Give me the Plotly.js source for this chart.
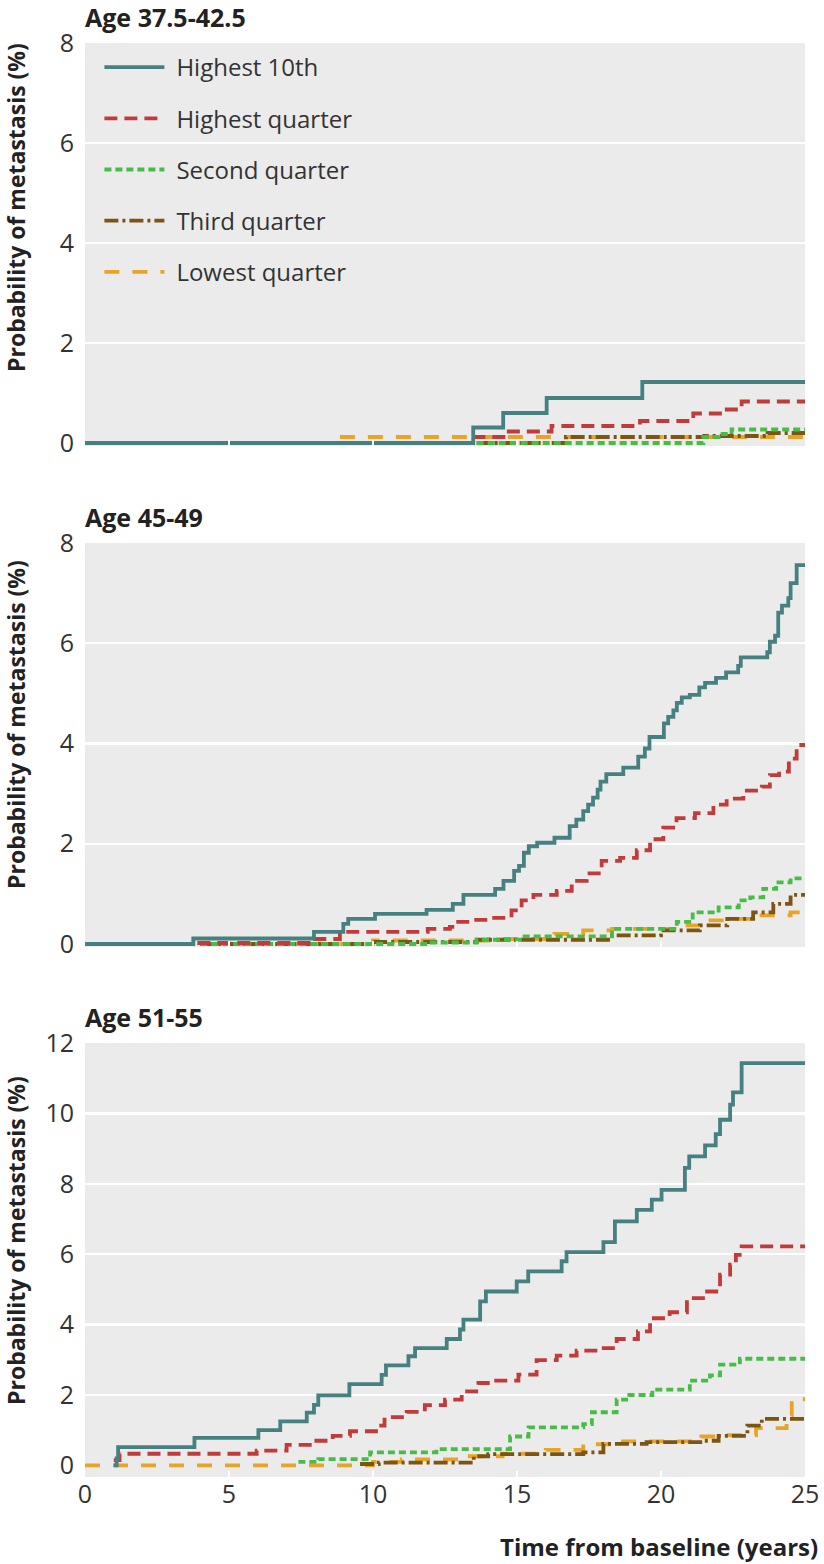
<!DOCTYPE html>
<html>
<head>
<meta charset="utf-8">
<script src="https://cdn.plot.ly/plotly-3.0.1.min.js"></script>
<style>
  html, body { margin: 0; padding: 0; background: #ffffff; }
  #chart { width: 824px; height: 1564px; }
</style>
</head>
<body>
<div id="chart"></div>
<script>
// ---------------- DATA ----------------
const seriesNames = ["Highest 10th", "Highest quarter", "Second quarter", "Third quarter", "Lowest quarter"];
const panelTitles = ["Age 37.5-42.5", "Age 45-49", "Age 51-55"];
const xTickVals = [0, 5, 10, 15, 20, 25];
const yTickVals12 = [0, 2, 4, 6, 8];
const yTickVals3 = [0, 2, 4, 6, 8, 10, 12];

// Panel 1: Age 37.5-42.5  (time in years, probability in %)
const p1_high10_t = [0, 13.48, 14.52, 16.03, 19.35, 25];
const p1_high10_p = [0, 0.31, 0.60, 0.90, 1.22, 1.22];
const p1_highQ_t = [13.45, 14.64, 16.2, 19.27, 21.12, 22.2, 22.8, 25];
const p1_highQ_p = [0.12, 0.23, 0.34, 0.44, 0.59, 0.67, 0.83, 0.83];
const p1_secondQ_t = [13.6, 21.47, 22.0, 22.45, 25];
const p1_secondQ_p = [0, 0.12, 0.18, 0.27, 0.27];
const p1_thirdQ_t = [13.6, 16.7, 21.5, 23.7, 25];
const p1_thirdQ_p = [0, 0.12, 0.14, 0.20, 0.20];
const p1_lowQ_t = [8.85, 25];
const p1_lowQ_p = [0.12, 0.12];

// Panel 2: Age 45-49
const p2_high10_t = [0, 3.76, 7.95, 8.97, 9.14, 10.07, 11.86, 12.77, 13.14, 14.24, 14.53, 14.9, 15.07, 15.24, 15.41, 15.7, 16.3, 16.83, 17.06, 17.3, 17.47, 17.64, 17.8, 17.9, 18.1, 18.69, 19.21, 19.44, 19.6, 20.1, 20.25, 20.43, 20.55, 20.72, 21.0, 21.33, 21.53, 21.91, 22.26, 22.68, 22.77, 23.69, 23.78, 23.96, 24.07, 24.2, 24.42, 24.5, 24.71, 25];
const p2_high10_p = [0, 0.11, 0.24, 0.40, 0.50, 0.60, 0.68, 0.80, 0.98, 1.10, 1.26, 1.46, 1.56, 1.82, 1.95, 2.02, 2.12, 2.35, 2.48, 2.65, 2.78, 2.92, 3.08, 3.24, 3.39, 3.52, 3.74, 3.90, 4.13, 4.40, 4.53, 4.66, 4.81, 4.92, 4.97, 5.12, 5.21, 5.31, 5.42, 5.55, 5.72, 5.82, 6.03, 6.15, 6.61, 6.75, 6.90, 7.20, 7.56, 7.56];
const p2_highQ_t = [3.9, 7.9, 8.85, 11.9, 12.67, 12.85, 13.5, 14.06, 14.81, 15.16, 15.57, 16.38, 16.9, 17.42, 17.94, 18.58, 19.16, 19.62, 20.08, 20.54, 21.18, 21.82, 22.28, 22.86, 23.5, 23.78, 24.1, 24.44, 24.71, 25];
const p2_highQ_p = [0.02, 0.10, 0.24, 0.30, 0.34, 0.44, 0.48, 0.52, 0.67, 0.87, 0.98, 1.06, 1.26, 1.41, 1.66, 1.72, 1.87, 2.09, 2.32, 2.51, 2.61, 2.78, 2.90, 3.06, 3.14, 3.37, 3.44, 3.70, 3.97, 3.97];
const p2_secondQ_t = [4.0, 11.9, 13.6, 15.1, 18.3, 20.55, 21.1, 22.0, 22.7, 23.1, 23.55, 24.0, 24.5, 25];
const p2_secondQ_p = [0, 0.03, 0.085, 0.15, 0.30, 0.44, 0.63, 0.73, 0.87, 0.93, 1.10, 1.23, 1.31, 1.31];
const p2_thirdQ_t = [4.0, 10.0, 13.6, 18.3, 20.0, 21.35, 22.3, 23.2, 23.9, 24.5, 25];
const p2_thirdQ_p = [0, 0.04, 0.085, 0.17, 0.27, 0.37, 0.50, 0.63, 0.80, 0.98, 0.98];
const p2_lowQ_t = [4.0, 10.0, 14.0, 16.3, 17.3, 18.3, 20.6, 21.5, 22.5, 23.4, 24.5, 25];
const p2_lowQ_p = [0, 0.07, 0.10, 0.20, 0.27, 0.30, 0.37, 0.47, 0.50, 0.57, 0.63, 0.63];

// Panel 3: Age 51-55
const p3_high10_t = [1.0, 1.1, 1.15, 3.8, 6.02, 6.78, 7.7, 7.95, 8.1, 9.18, 10.3, 10.45, 11.23, 11.46, 12.56, 13.02, 13.14, 13.72, 13.92, 14.99, 15.39, 16.55, 16.72, 18.0, 18.4, 19.16, 19.68, 20.02, 20.83, 20.98, 21.53, 21.9, 22.05, 22.4, 22.5, 22.8, 25];
const p3_high10_p = [0, 0.2, 0.52, 0.78, 1.0, 1.25, 1.5, 1.72, 1.99, 2.31, 2.57, 2.84, 3.10, 3.33, 3.59, 3.86, 4.14, 4.66, 4.94, 5.23, 5.51, 5.80, 6.06, 6.34, 6.93, 7.26, 7.55, 7.83, 8.45, 8.78, 9.09, 9.41, 9.82, 10.25, 10.6, 11.43, 11.43];
const p3_highQ_t = [1.0, 1.2, 5.96, 7.0, 7.93, 8.6, 9.2, 10.2, 10.4, 11.17, 11.8, 12.5, 13.08, 13.66, 14.2, 15.05, 15.68, 16.38, 17.07, 17.94, 18.46, 19.2, 19.62, 20.3, 20.9, 21.53, 22.05, 22.4, 22.6, 22.8, 25];
const p3_highQ_p = [0.15, 0.33, 0.42, 0.58, 0.70, 0.84, 0.97, 1.13, 1.37, 1.52, 1.71, 1.87, 2.10, 2.34, 2.41, 2.58, 2.99, 3.12, 3.26, 3.33, 3.59, 3.81, 4.18, 4.35, 4.75, 4.94, 5.42, 5.70, 5.98, 6.22, 6.22];
const p3_secondQ_t = [7.41, 8.1, 9.9, 12.2, 14.76, 15.4, 17.3, 17.6, 18.46, 18.9, 19.7, 21.0, 21.7, 22.05, 22.74, 25];
const p3_secondQ_p = [0.10, 0.18, 0.37, 0.46, 0.82, 1.08, 1.17, 1.51, 1.87, 2.00, 2.15, 2.41, 2.56, 2.86, 3.03, 3.03];
const p3_thirdQ_t = [9.55, 10.2, 13.5, 14.0, 17.3, 18.0, 19.5, 21.5, 22.0, 23.0, 23.5, 25];
const p3_thirdQ_p = [0.04, 0.08, 0.26, 0.32, 0.37, 0.61, 0.66, 0.70, 0.84, 1.13, 1.32, 1.32];
const p3_lowQ_t = [0, 10.0, 11.0, 13.25, 14.5, 16.0, 17.3, 18.2, 21.4, 22.0, 23.3, 24.36, 24.54, 25];
const p3_lowQ_p = [0, 0.10, 0.17, 0.26, 0.33, 0.44, 0.60, 0.68, 0.82, 0.86, 1.06, 1.41, 1.88, 1.88];

// ---------------- STYLE ----------------
const FONT = '"Open Sans", "Noto Sans", sans-serif';
const TEXT = '#333333';
const BG = '#ebebeb';
const LW = 3.8;
const styles = {
  "Highest 10th":    { color: '#468080', dash: 'solid',              rank: 1 },
  "Highest quarter": { color: '#c23b3b', dash: '13px,7px',           rank: 2 },
  "Second quarter":  { color: '#47bd47', dash: '7px,4px',            rank: 3 },
  "Third quarter":   { color: '#7b5511', dash: '14px,4px,3px,4px',   rank: 4 },
  "Lowest quarter":  { color: '#e9a326', dash: '15px,13px',          rank: 5 }
};

const panels = [
  { xa: 'x',  ya: 'y',  data: { "Highest 10th": [p1_high10_t, p1_high10_p], "Highest quarter": [p1_highQ_t, p1_highQ_p], "Second quarter": [p1_secondQ_t, p1_secondQ_p], "Third quarter": [p1_thirdQ_t, p1_thirdQ_p], "Lowest quarter": [p1_lowQ_t, p1_lowQ_p] } },
  { xa: 'x2', ya: 'y2', data: { "Highest 10th": [p2_high10_t, p2_high10_p], "Highest quarter": [p2_highQ_t, p2_highQ_p], "Second quarter": [p2_secondQ_t, p2_secondQ_p], "Third quarter": [p2_thirdQ_t, p2_thirdQ_p], "Lowest quarter": [p2_lowQ_t, p2_lowQ_p] } },
  { xa: 'x3', ya: 'y3', data: { "Highest 10th": [p3_high10_t, p3_high10_p], "Highest quarter": [p3_highQ_t, p3_highQ_p], "Second quarter": [p3_secondQ_t, p3_secondQ_p], "Third quarter": [p3_thirdQ_t, p3_thirdQ_p], "Lowest quarter": [p3_lowQ_t, p3_lowQ_p] } }
];

// draw order: lowest first so that Highest 10th is on top
const drawOrder = ["Lowest quarter", "Third quarter", "Second quarter", "Highest quarter", "Highest 10th"];
const traces = [];
panels.forEach((pn, i) => {
  drawOrder.forEach(name => {
    const st = styles[name];
    traces.push({
      type: 'scatter', mode: 'lines', name: name,
      x: pn.data[name][0], y: pn.data[name][1],
      xaxis: pn.xa, yaxis: pn.ya,
      line: { shape: 'hv', color: st.color, width: LW, dash: st.dash },
      legendgroup: name, legendrank: st.rank,
      showlegend: i === 0, hoverinfo: 'skip'
    });
  });
});

// ---------------- LAYOUT ----------------
const TOP = 43, BOTTOM = 1477, H = 1564;
const span = BOTTOM - TOP;
const dom = (yTop, yBot) => [(BOTTOM - yBot) / span, (BOTTOM - yTop) / span];
const d1 = dom(43, 446), d2 = dom(543, 947), d3 = dom(1043, 1477);
const py = Y => (BOTTOM - Y) / span;

function xax(showLabels) {
  return {
    domain: [0, 1], range: [0, 25], tickvals: xTickVals,
    showticklabels: showLabels, ticks: 'inside', ticklen: 6, tickwidth: 2, tickcolor: '#ffffff',
    tickfont: { family: FONT, size: 25, color: TEXT },
    showgrid: false, zeroline: false, showline: false, fixedrange: true
  };
}
function yax(domain, range, vals) {
  return {
    domain: domain, range: range, tickvals: vals,
    ticks: 'outside', ticklen: 5, tickcolor: 'rgba(0,0,0,0)',
    tickfont: { family: FONT, size: 25, color: TEXT },
    showgrid: true, gridcolor: '#ffffff', gridwidth: 2.2,
    zeroline: true, zerolinecolor: BG, zerolinewidth: 3,
    showline: false, fixedrange: true
  };
}

const annotations = [];
[[panelTitles[0], d1[1]], [panelTitles[1], d2[1]], [panelTitles[2], d3[1]]].forEach(([t, y]) => {
  annotations.push({ text: t, xref: 'paper', yref: 'paper', x: 0, y: y, xanchor: 'left', yanchor: 'bottom',
    xshift: -2, yshift: 7, showarrow: false, font: { family: FONT, size: 25, color: '#222222', weight: 'bold' } });
});
[208, 725, 1241].forEach(Yc => {
  annotations.push({ text: 'Probability of metastasis (%)', xref: 'paper', yref: 'paper', x: 0, y: py(Yc),
    xanchor: 'center', yanchor: 'middle', xshift: -69, textangle: -90, showarrow: false,
    font: { family: FONT, size: 23, color: '#222222', weight: 'bold' } });
});
annotations.push({ text: 'Time from baseline (years)', xref: 'paper', yref: 'paper', x: 1, y: 0,
  xanchor: 'right', yanchor: 'top', xshift: 15, yshift: -51, showarrow: false,
  font: { family: FONT, size: 24, color: '#222222', weight: 'bold' } });

const layout = {
  width: 824, height: H,
  margin: { l: 85, r: 19, t: TOP, b: H - BOTTOM, pad: 0 },
  paper_bgcolor: '#ffffff', plot_bgcolor: BG,
  font: { family: FONT, color: TEXT },
  showlegend: true,
  legend: {
    x: 0.02, y: py(45), xanchor: 'left', yanchor: 'top',
    bgcolor: 'rgba(0,0,0,0)', borderwidth: 0,
    font: { family: FONT, size: 24, color: TEXT },
    itemwidth: 67, tracegroupgap: 17, traceorder: 'grouped',
    itemclick: false, itemdoubleclick: false
  },
  xaxis: Object.assign(xax(false), { anchor: 'y' }),
  xaxis2: Object.assign(xax(false), { anchor: 'y2' }),
  xaxis3: Object.assign(xax(true), { anchor: 'y3' }),
  yaxis: Object.assign(yax(d1, [-0.06, 8], yTickVals12), { anchor: 'x' }),
  yaxis2: Object.assign(yax(d2, [-0.06, 8], yTickVals12), { anchor: 'x2' }),
  yaxis3: Object.assign(yax(d3, [-0.33, 12], yTickVals3), { anchor: 'x3' }),
  annotations: annotations
};

Plotly.newPlot('chart', traces, layout, { staticPlot: true, displayModeBar: false }).then(gd => {
  // longer legend line samples, as in the original figure
  gd.querySelectorAll('.legend .legendlines path.js-line').forEach(p => p.setAttribute('d', 'M5,0h60'));
});
</script>
</body>
</html>
